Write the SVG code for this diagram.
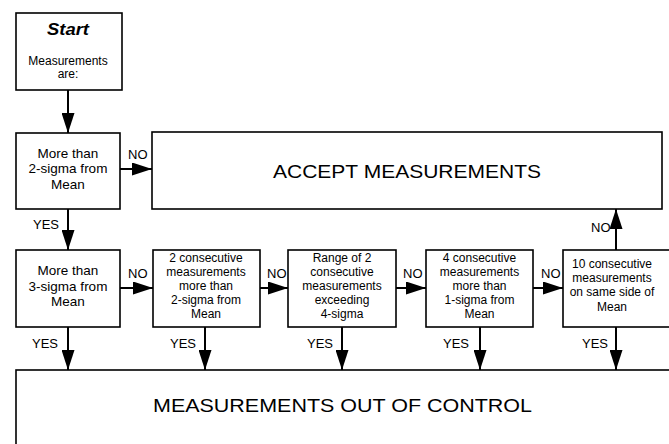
<svg xmlns="http://www.w3.org/2000/svg" width="669" height="444" viewBox="0 0 669 444">
<style>
.box{fill:#fff;stroke:#000;stroke-width:1.6}
.t{font-family:"Liberation Sans",Arial,sans-serif;font-size:12px;fill:#000;text-anchor:middle}
.m{font-size:13.5px}
.big{font-size:19px}
.lab{font-family:"Liberation Sans",Arial,sans-serif;font-size:13px;fill:#000}
.c{fill:none;stroke:#000;stroke-width:2}
</style>
<defs>
<marker id="ah" viewBox="0 0 20 13" refX="20" refY="6.5" markerWidth="20" markerHeight="13" markerUnits="userSpaceOnUse" orient="auto">
<path d="M0,0 L20,6.5 L0,13 z" fill="#000"/>
</marker>
</defs>
<rect width="669" height="444" fill="#fff"/>
<g id="start">
<rect class="box" x="16" y="13" width="106" height="77"/>
<text class="t" x="68" y="35" style="font-size:17px;font-weight:bold;font-style:italic" textLength="42" lengthAdjust="spacingAndGlyphs">Start</text>
<text class="t" x="68" y="65">Measurements</text>
<text class="t" x="68" y="78">are:</text>
</g>
<g id="q2sigma">
<rect class="box" x="16" y="133" width="104" height="76"/>
<text class="t m" x="68" y="158">More than</text>
<text class="t m" x="68" y="173">2-sigma from</text>
<text class="t m" x="68" y="189">Mean</text>
</g>
<g id="accept">
<rect class="box" x="152" y="132" width="510" height="77"/>
<text class="t big" x="407" y="178" textLength="268" lengthAdjust="spacingAndGlyphs">ACCEPT MEASUREMENTS</text>
</g>
<g id="q3sigma">
<rect class="box" x="16" y="250" width="104" height="77"/>
<text class="t m" x="68" y="275">More than</text>
<text class="t m" x="68" y="291">3-sigma from</text>
<text class="t m" x="68" y="306">Mean</text>
</g>
<g id="q2consec">
<rect class="box" x="153" y="250" width="107" height="77"/>
<text class="t" x="206" y="262">2 consecutive</text>
<text class="t" x="206" y="276">measurements</text>
<text class="t" x="206" y="290">more than</text>
<text class="t" x="206" y="304">2-sigma from</text>
<text class="t" x="206" y="318">Mean</text>
</g>
<g id="qrange">
<rect class="box" x="288" y="250" width="108" height="77"/>
<text class="t" x="342" y="262">Range of 2</text>
<text class="t" x="342" y="276">consecutive</text>
<text class="t" x="342" y="290">measurements</text>
<text class="t" x="342" y="304">exceeding</text>
<text class="t" x="342" y="318">4-sigma</text>
</g>
<g id="q4consec">
<rect class="box" x="426" y="250" width="107" height="77"/>
<text class="t" x="479.5" y="262">4 consecutive</text>
<text class="t" x="479.5" y="276">measurements</text>
<text class="t" x="479.5" y="290">more than</text>
<text class="t" x="479.5" y="304">1-sigma from</text>
<text class="t" x="479.5" y="318">Mean</text>
</g>
<g id="q10consec">
<rect class="box" x="563" y="250" width="120" height="77"/>
<text class="t" x="612" y="268">10 consecutive</text>
<text class="t" x="612" y="282">measurements</text>
<text class="t" x="612" y="296">on same side of</text>
<text class="t" x="612" y="311">Mean</text>
</g>
<g id="outofcontrol">
<rect class="box" x="16" y="370" width="680" height="100"/>
<text class="t big" x="342.5" y="412" textLength="379" lengthAdjust="spacingAndGlyphs">MEASUREMENTS OUT OF CONTROL</text>
</g>
<g id="connectors">
<line class="c" x1="68" y1="90" x2="68" y2="133" marker-end="url(#ah)"/>
<line class="c" x1="120" y1="169" x2="152" y2="169" marker-end="url(#ah)"/>
<line class="c" x1="68" y1="209" x2="68" y2="250" marker-end="url(#ah)"/>
<line class="c" x1="120" y1="288" x2="153" y2="288" marker-end="url(#ah)"/>
<line class="c" x1="260" y1="288" x2="288" y2="288" marker-end="url(#ah)"/>
<line class="c" x1="396" y1="288" x2="426" y2="288" marker-end="url(#ah)"/>
<line class="c" x1="533" y1="288" x2="563" y2="288" marker-end="url(#ah)"/>
<line class="c" x1="616" y1="250" x2="616" y2="209" marker-end="url(#ah)"/>
<line class="c" x1="68" y1="327" x2="68" y2="370" marker-end="url(#ah)"/>
<line class="c" x1="205" y1="327" x2="205" y2="370" marker-end="url(#ah)"/>
<line class="c" x1="342" y1="327" x2="342" y2="370" marker-end="url(#ah)"/>
<line class="c" x1="480" y1="327" x2="480" y2="370" marker-end="url(#ah)"/>
<line class="c" x1="616" y1="327" x2="616" y2="370" marker-end="url(#ah)"/>
<text class="lab" x="128" y="159">NO</text>
<text class="lab" x="33" y="229">YES</text>
<text class="lab" x="128" y="278">NO</text>
<text class="lab" x="267" y="278">NO</text>
<text class="lab" x="403" y="278">NO</text>
<text class="lab" x="541" y="278">NO</text>
<text class="lab" x="591" y="232">NO</text>
<text class="lab" x="32" y="348">YES</text>
<text class="lab" x="170" y="348">YES</text>
<text class="lab" x="307" y="348">YES</text>
<text class="lab" x="443" y="348">YES</text>
<text class="lab" x="582" y="348">YES</text>
</g>
</svg>
